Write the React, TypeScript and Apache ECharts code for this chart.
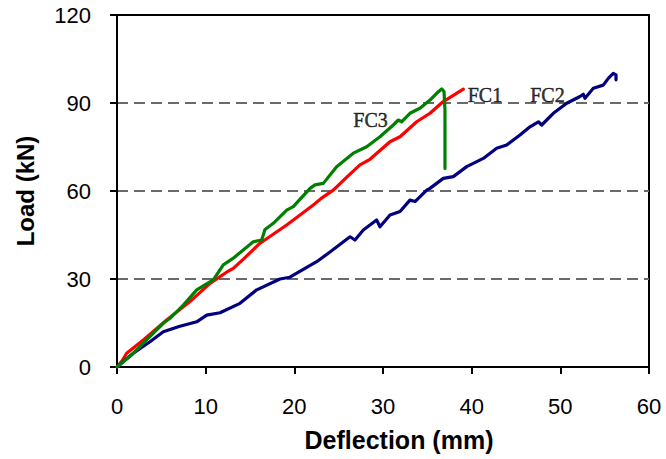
import React, { useEffect, useRef } from "react";
import * as echarts from "echarts";

const fc1: [number, number][] = [
  [0, 0], [0.6, 2.2], [1.09, 4.7], [2.97, 9.2], [5.6, 16.0], [8.23, 22.3], [10.49, 28.5],
  [12.4, 32.4], [13.12, 33.6], [14.2, 36.6], [16.13, 42.2], [19.14, 48.4], [22.14, 55.2],
  [23.0, 57.4], [24.39, 60.3], [25.8, 64.4], [27.4, 68.9], [28.53, 70.8], [30.79, 76.8],
  [31.92, 78.5], [33.8, 83.6], [35.3, 86.5], [36.8, 90.5], [39.06, 94.7],
];

const fc2: [number, number][] = [
  [0, 0], [1.84, 4.7], [3.72, 8.6], [5.22, 12.0], [7.0, 13.8], [8.99, 15.4], [10.12, 17.7],
  [11.62, 18.5], [13.87, 21.7], [15.76, 26.3], [18.38, 30.0], [19.5, 30.6], [22.52, 35.9],
  [24.02, 39.2], [26.28, 44.4], [26.84, 43.3], [27.78, 46.7], [29.28, 50.1], [29.66, 47.8],
  [30.79, 51.8], [31.92, 53.0], [33.04, 56.9], [33.61, 56.4], [34.93, 60.3], [35.3, 60.9],
  [36.8, 64.3], [37.93, 64.9], [39.44, 68.3], [41.31, 71.1], [42.82, 74.6], [43.95, 75.7],
  [45.45, 79.1], [46.58, 81.9], [47.52, 83.6], [47.9, 82.5], [49.21, 86.5], [50.72, 89.9],
  [52.22, 92.2], [52.59, 93.0], [52.78, 91.6], [53.72, 95.0], [54.84, 96.1], [55.41, 98.4],
  [55.97, 100.1], [56.28, 99.6], [56.28, 97.9],
];

const fc3: [number, number][] = [
  [0, 0], [1.84, 4.7], [2.97, 8.1], [5.22, 14.9], [5.98, 16.6], [7.48, 21.1], [8.99, 26.3],
  [10.86, 29.7], [11.99, 34.8], [13.12, 37.1], [15.37, 42.7], [16.32, 43.3], [16.69, 46.9],
  [17.63, 49.0], [19.14, 53.5], [19.88, 54.7], [21.77, 60.9], [22.33, 62.1], [23.27, 62.6],
  [24.77, 68.3], [26.65, 72.9], [28.16, 75.1], [29.66, 78.5], [31.16, 82.5], [31.73, 84.2],
  [32.1, 83.6], [33.04, 86.5], [34.17, 88.2], [35.3, 91.0], [36.05, 93.3], [36.62, 94.8],
  [36.88, 93.9], [36.99, 87.6], [36.99, 67.7],
];

const labelNames = ["FC1", "FC2", "FC3"];
const labelX = [41.5, 48.55, 28.6];
const labelY = [92.7, 92.7, 84.2];

const xTicks = { min: 0, max: 60, interval: 10 };
const yTicks = { min: 0, max: 120, interval: 30 };

export default function App() {
  const ref = useRef<HTMLDivElement>(null);
  useEffect(() => {
    if (!ref.current) return;
    const chart = echarts.init(ref.current, null, { renderer: "svg" });
    const sans = "'Liberation Sans', Arial, sans-serif";
    const serif = "'Liberation Serif', 'Times New Roman', serif";
    const lineSeries = (name: string, data: [number, number][], color: string, z: number) => ({
      name,
      type: "line",
      data,
      showSymbol: false,
      symbol: "none",
      lineStyle: { color, width: 3.2, join: "round", cap: "round" },
      itemStyle: { color },
      z,
    });
    chart.setOption({
      animation: false,
      backgroundColor: "#ffffff",
      grid: {
        left: 117,
        right: 17,
        top: 15,
        bottom: 92,
        show: true,
        borderColor: "#000",
        borderWidth: 2,
        backgroundColor: "transparent",
      },
      xAxis: {
        type: "value",
        min: xTicks.min,
        max: xTicks.max,
        interval: xTicks.interval,
        name: "Deflection (mm)",
        nameLocation: "middle",
        nameGap: 60,
        nameTextStyle: {
          fontFamily: sans,
          fontSize: 25,
          fontWeight: "bold",
          color: "#000",
          padding: [0, 0, 0, 32],
        },
        axisLine: { show: true, onZero: false, lineStyle: { color: "#000", width: 2 } },
        axisTick: { show: true, inside: false, length: 7, lineStyle: { color: "#000", width: 2 } },
        axisLabel: { fontFamily: sans, fontSize: 22, color: "#000", margin: 28 },
        splitLine: { show: false },
      },
      yAxis: {
        type: "value",
        min: yTicks.min,
        max: yTicks.max,
        interval: yTicks.interval,
        name: "Load (kN)",
        nameLocation: "middle",
        nameGap: 80,
        nameTextStyle: { fontFamily: sans, fontSize: 24, fontWeight: "bold", color: "#000" },
        axisLine: { show: true, lineStyle: { color: "#000", width: 2 } },
        axisTick: { show: true, inside: false, length: 7, lineStyle: { color: "#000", width: 2 } },
        axisLabel: { fontFamily: sans, fontSize: 22, color: "#000", margin: 26 },
        splitLine: {
          show: true,
          showMinLine: false,
          showMaxLine: false,
          lineStyle: { color: "#6a6a6a", width: 2, type: [11, 6] },
        },
      },
      series: [
        lineSeries("FC1", fc1, "#ff0000", 3),
        lineSeries("FC2", fc2, "#000080", 3),
        lineSeries("FC3", fc3, "#008000", 4),
        {
          name: "labels",
          type: "scatter",
          symbolSize: 0,
          silent: true,
          data: labelNames.map((n, i) => ({ name: n, value: [labelX[i], labelY[i]] })),
          label: {
            show: true,
            position: "inside",
            formatter: (p: any) => p.name,
            fontFamily: serif,
            fontSize: 20,
            color: "#000",
            textBorderWidth: 0.5,
            textBorderColor: "#000",
          },
          z: 5,
        },
      ],
    });
    return () => chart.dispose();
  }, []);
  return (
    <div
      ref={ref}
      style={{ position: "fixed", left: 0, top: 0, width: 666, height: 459, background: "#fff" }}
    />
  );
}
